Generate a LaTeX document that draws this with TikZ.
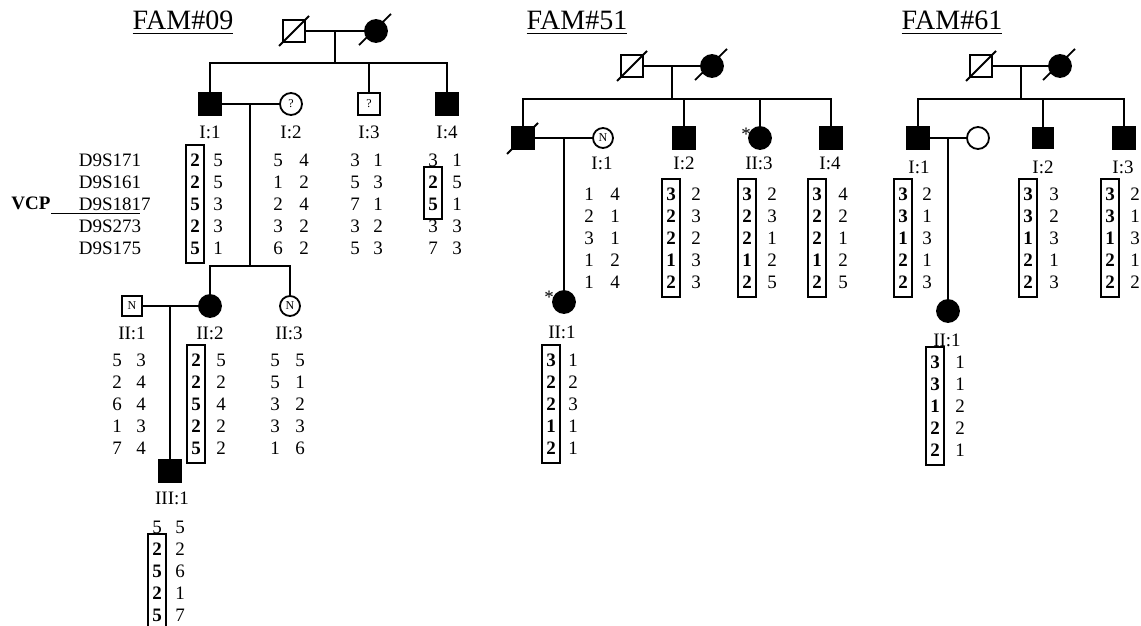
\documentclass[tikz,border=0pt]{standalone}
\usepackage{fontspec}
\setmainfont{Liberation Serif}

\tikzset{
  male/.style={draw, rectangle, minimum size=11pt, inner sep=0pt, font=\fontsize{6}{7}\selectfont},
  female/.style={draw, circle, minimum size=11pt, inner sep=0pt, font=\fontsize{6}{7}\selectfont},
  aff/.style={fill=black},
  hap/.style={align=center, inner sep=0pt, font=\fontsize{9.5}{11}\selectfont},
  hapbox/.style={hap, draw, inner xsep=2pt, inner ysep=4.5pt, font=\fontsize{9.5}{11}\selectfont\bfseries},
  idlab/.style={inner sep=0pt, font=\fontsize{9.5}{11}\selectfont},
  famtitle/.style={anchor=base, font=\fontsize{14}{16}\selectfont},
}

\begin{document}
\begin{tikzpicture}[x=0.5pt, y=-0.5pt, line width=0.9pt]
  \useasboundingbox (0,0) rectangle (1141,626);

  % FAM#09
  \node[famtitle] (t09) at (183,30) { \underline{FAM\#09} };

  \node[male] (gf09) at (294,31) {};
  \node[female, aff] (gm09) at (376,31) {};
  \draw (gf09.center) ++(-15,15) -- ++(30,-30);
  \draw (gm09.center) ++(-17,14) -- ++(32,-31);
  \coordinate (c09) at (335,31);
  \coordinate (s09) at (335,63);
  \draw (gf09) -- (gm09);
  \draw (c09) -- (s09);

  \node[male, aff] (f09i1) at (210,104) {};
  \node[female] (f09i2) at (291,104) {?};
  \node[male] (f09i3) at (369,104) {?};
  \node[male, aff] (f09i4) at (447,104) {};
  \draw (f09i1.north) |- (s09) -| (f09i4.north);
  \draw (f09i3.north) -- (f09i3.north |- s09);
  \draw (f09i1) -- (f09i2);

  \node[idlab] (l09i1) at (210,132) {I:1};
  \node[idlab] (l09i2) at (291,132) {I:2};
  \node[idlab] (l09i3) at (369,132) {I:3};
  \node[idlab] (l09i4) at (447,132) {I:4};

  \node[hap, align=left, anchor=west] (mk09) at (78,204) {D9S171\\D9S161\\D9S1817\\D9S273\\D9S175};
  \node[idlab, font=\fontsize{9.5}{11}\selectfont\bfseries] (vcp) at (31,203) {VCP};
  \coordinate (vcpend) at (140,213);
  \draw[line width=0.5pt] (vcp.east |- vcpend) -- (vcpend);

  \node[hapbox] (h09i1a) at (195,204) {2\\2\\5\\2\\5};
  \node[hap] (h09i1b) at (218,204) {5\\5\\3\\3\\1};
  \node[hap] (h09i2a) at (278,204) {5\\1\\2\\3\\6};
  \node[hap] (h09i2b) at (304,204) {4\\2\\4\\2\\2};
  \node[hap] (h09i3a) at (355,204) {3\\5\\7\\3\\5};
  \node[hap] (h09i3b) at (378,204) {1\\3\\1\\2\\3};
  \node[hap] (h09i4a) at (433,160) {3};
  \node[hapbox] (h09i4c) at (433,193) {2\\5};
  \node[hap] (h09i4d) at (433,237) {3\\7};
  \node[hap] (h09i4b) at (457,204) {1\\5\\1\\3\\3};

  \coordinate (m09) at (250,104);
  \coordinate (b09) at (250,266);
  \draw (m09) -- (b09);

  \node[male, minimum size=10pt] (f09ii1) at (132,306) {N};
  \node[female, aff] (f09ii2) at (210,306) {};
  \node[female, minimum size=10pt] (f09ii3) at (290,306) {N};
  \draw (f09ii2.north) |- (b09) -| (f09ii3.north);
  \draw (f09ii1) -- (f09ii2);

  \node[idlab] (l09ii1) at (132,333) {II:1};
  \node[idlab] (l09ii2) at (210,333) {II:2};
  \node[idlab] (l09ii3) at (289,333) {II:3};

  \node[hap] (h09ii1a) at (117,404) {5\\2\\6\\1\\7};
  \node[hap] (h09ii1b) at (141,404) {3\\4\\4\\3\\4};
  \node[hapbox] (h09ii2a) at (196,404) {2\\2\\5\\2\\5};
  \node[hap] (h09ii2b) at (221,404) {5\\2\\4\\2\\2};
  \node[hap] (h09ii3a) at (275,404) {5\\5\\3\\3\\1};
  \node[hap] (h09ii3b) at (300,404) {5\\1\\2\\3\\6};

  \node[male, aff] (f09iii1) at (170,471) {};
  \coordinate (m09b) at (170,306);
  \draw (m09b) -- (f09iii1);
  \node[idlab] (l09iii1) at (172,498) {III:1};

  \node[hap] (h09iii1a) at (157,527) {5};
  \node[hapbox] (h09iii1c) at (157,582) {2\\5\\2\\5};
  \node[hap] (h09iii1b) at (180,571) {5\\2\\6\\1\\7};

  % FAM#51
  \node[famtitle] (t51) at (577,30) { \underline{FAM\#51} };

  \node[male] (gf51) at (632,66) {};
  \node[female, aff] (gm51) at (712,66) {};
  \draw (gf51.center) ++(-15,15) -- ++(30,-30);
  \draw (gm51.center) ++(-17,14) -- ++(32,-31);
  \coordinate (c51) at (672,66);
  \coordinate (s51) at (672,99);
  \draw (gf51) -- (gm51);
  \draw (c51) -- (s51);

  \node[male, aff] (f51i1) at (523,138) {};
  \draw (f51i1.center) ++(-16,16) -- ++(31,-31);
  \node[female, minimum size=10pt] (f51w) at (603,138) {N};
  \node[male, aff] (f51i2) at (684,138) {};
  \node[female, aff] (f51ii3) at (760,138) {};
  \node[male, aff] (f51i4) at (831,138) {};
  \draw (f51i1.north) |- (s51) -| (f51i4.north);
  \draw (f51i2.north) -- (f51i2.north |- s51);
  \draw (f51ii3.north) -- (f51ii3.north |- s51);
  \draw (f51i1) -- (f51w);
  \node[idlab] (st51a) at (746,134) {*};

  \node[idlab] (l51i1) at (602,163) {I:1};
  \node[idlab] (l51i2) at (684,163) {I:2};
  \node[idlab] (l51ii3) at (759,163) {II:3};
  \node[idlab] (l51i4) at (830,163) {I:4};

  \node[hap] (h51i1a) at (589,238) {1\\2\\3\\1\\1};
  \node[hap] (h51i1b) at (615,238) {4\\1\\1\\2\\4};
  \node[hapbox] (h51i2a) at (671,238) {3\\2\\2\\1\\2};
  \node[hap] (h51i2b) at (696,238) {2\\3\\2\\3\\3};
  \node[hapbox] (h51ii3a) at (747,238) {3\\2\\2\\1\\2};
  \node[hap] (h51ii3b) at (772,238) {2\\3\\1\\2\\5};
  \node[hapbox] (h51i4a) at (817,238) {3\\2\\2\\1\\2};
  \node[hap] (h51i4b) at (843,238) {4\\2\\1\\2\\5};

  \coordinate (m51) at (564,138);
  \node[female, aff] (f51ii1) at (564,302) {};
  \draw (m51) -- (f51ii1);
  \node[idlab] (st51b) at (549,297) {*};
  \node[idlab] (l51ii1) at (562,332) {II:1};

  \node[hapbox] (h51ii1a) at (551,404) {3\\2\\2\\1\\2};
  \node[hap] (h51ii1b) at (573,404) {1\\2\\3\\1\\1};

  % FAM#61
  \node[famtitle] (t61) at (952,30) { \underline{FAM\#61} };

  \node[male] (gf61) at (981,66) {};
  \node[female, aff] (gm61) at (1060,66) {};
  \draw (gf61.center) ++(-15,15) -- ++(30,-30);
  \draw (gm61.center) ++(-17,14) -- ++(32,-31);
  \coordinate (c61) at (1021,66);
  \coordinate (s61) at (1021,99);
  \draw (gf61) -- (gm61);
  \draw (c61) -- (s61);

  \node[male, aff] (f61i1) at (918,138) {};
  \node[female] (f61w) at (978,138) {};
  \node[male, aff, minimum size=10pt] (f61i2) at (1043,138) {};
  \node[male, aff] (f61i3) at (1124,138) {};
  \draw (f61i1.north) |- (s61) -| (f61i3.north);
  \draw (f61i2.north) -- (f61i2.north |- s61);
  \draw (f61i1) -- (f61w);

  \node[idlab] (l61i1) at (919,167) {I:1};
  \node[idlab] (l61i2) at (1043,167) {I:2};
  \node[idlab] (l61i3) at (1123,167) {I:3};

  \node[hapbox] (h61i1a) at (903,238) {3\\3\\1\\2\\2};
  \node[hap] (h61i1b) at (927,238) {2\\1\\3\\1\\3};
  \node[hapbox] (h61i2a) at (1028,238) {3\\3\\1\\2\\2};
  \node[hap] (h61i2b) at (1054,238) {3\\2\\3\\1\\3};
  \node[hapbox] (h61i3a) at (1110,238) {3\\3\\1\\2\\2};
  \node[hap] (h61i3b) at (1135,238) {2\\1\\3\\1\\2};

  \coordinate (m61) at (948,138);
  \node[female, aff] (f61ii1) at (948,311) {};
  \draw (m61) -- (f61ii1);
  \node[idlab] (l61ii1) at (947,340) {II:1};

  \node[hapbox] (h61ii1a) at (935,406) {3\\3\\1\\2\\2};
  \node[hap] (h61ii1b) at (960,406) {1\\1\\2\\2\\1};
\end{tikzpicture}
\end{document}
